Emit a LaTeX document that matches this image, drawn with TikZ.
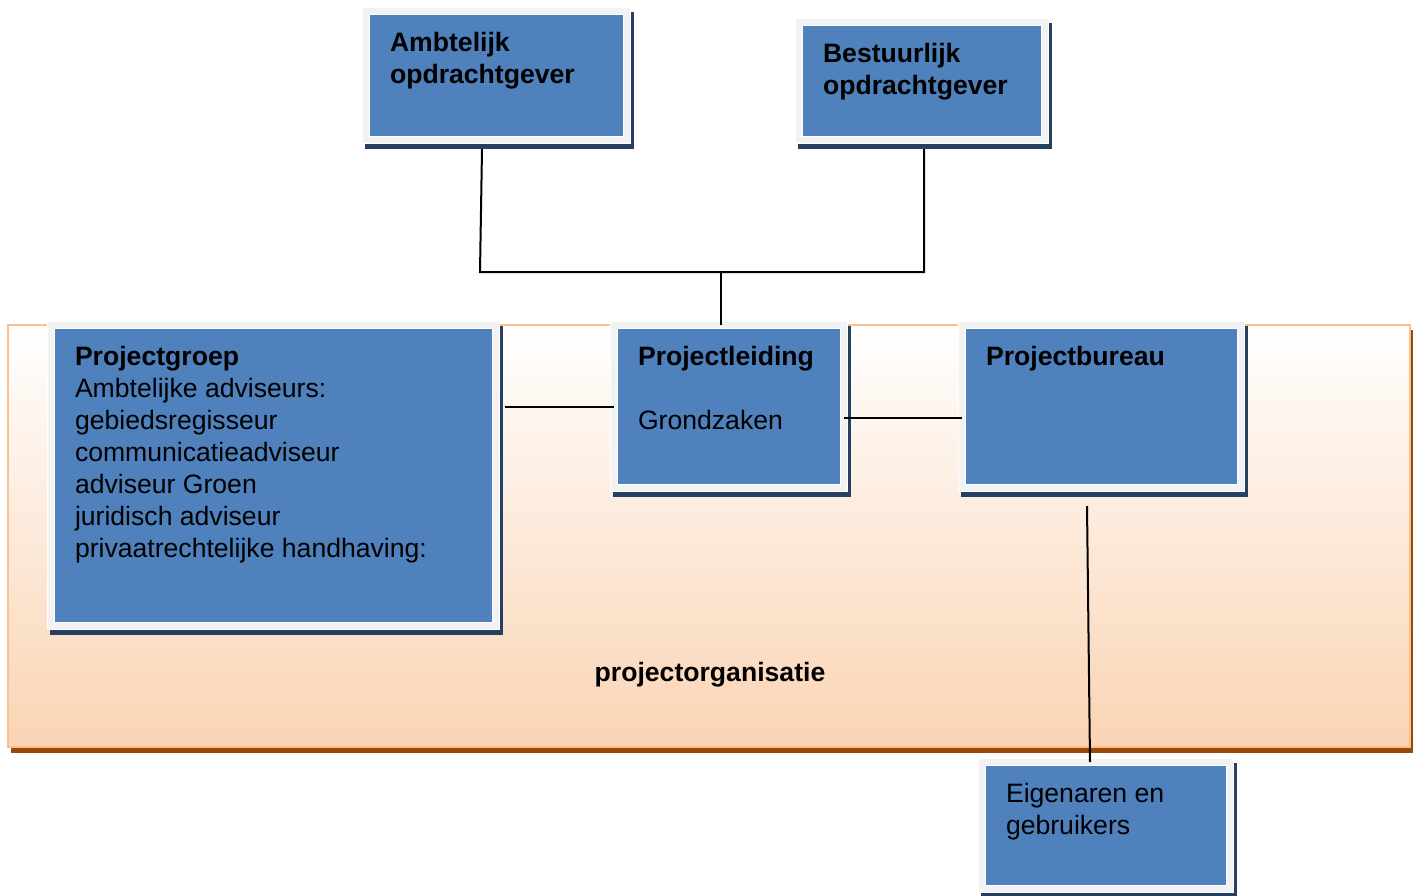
\documentclass[tikz,border=0pt]{standalone}
\usepackage{fontspec}
\setmainfont{Liberation Sans}
\usetikzlibrary{calc}

\definecolor{boxblue}{RGB}{79,129,189}
\definecolor{framegray}{RGB}{242,242,242}
\definecolor{shadowblue}{RGB}{38,64,98}
\definecolor{orgline}{RGB}{250,192,144}
\definecolor{orgfill}{RGB}{250,212,180}
\definecolor{orgshadow}{RGB}{152,72,7}

\newcommand{\boxtext}[3]{\parbox[t][#2pt][t]{#1pt}{\raggedright #3}}

\begin{document}
\begin{tikzpicture}[x=1pt,y=-1pt,
        box/.style={anchor=north west,outer sep=0pt,inner xsep=24pt,inner ysep=21pt,
            fill=boxblue,draw=white,double=framegray,line width=0.8pt,double distance=6.4pt,
            preaction={draw=shadowblue,line width=8pt,transform canvas={xshift=3pt,yshift=-5pt}},
            font=\fontsize{26.6}{32}\selectfont},
        link/.style={line width=2pt}]
            \useasboundingbox (0,0) rectangle (1413,895);

            \fill[orgshadow] (11,330) rectangle (1413,753);
            \draw[orgline,line width=2pt,top color=white,bottom color=orgfill] (8,325) rectangle (1410,747);
            \node[font=\fontsize{26.6}{32}\selectfont\bfseries,anchor=base] (orglabel) at (710,681) {projectorganisatie};

            \node[box] (ambt) at (366,11) {\boxtext{213}{87}{\textbf{Ambtelijk\\ opdrachtgever}}};
            \node[box] (best) at (799,22) {\boxtext{198}{76}{\textbf{Bestuurlijk\\ opdrachtgever}}};
            \node[box] (pgroep) at (51,325) {\boxtext{397}{259}{\textbf{Projectgroep}\\ Ambtelijke adviseurs:\\ gebiedsregisseur\\ communicatieadviseur\\ adviseur Groen\\ juridisch adviseur\\ privaatrechtelijke handhaving:}};
            \node[box] (pleid) at (614,325) {\boxtext{182}{121}{\textbf{Projectleiding}\\[32pt] Grondzaken}};
            \node[box] (pbur) at (962,325) {\boxtext{231}{121}{\textbf{Projectbureau}}};
            \node[box] (eig) at (982,762) {\boxtext{200}{85}{Eigenaren en\\ gebruikers}};

            \coordinate (busL) at (480,272);
            \coordinate (busR) at (924,272);
            \coordinate (pl-top) at ([xshift=-8pt]pleid.north);
            \coordinate (pg-right) at ([xshift=9pt]pgroep.east);

            \draw[link] ([shift={(-14.5,9)}]ambt.south) -- (busL) -- (busR) -- ([shift={(2,9)}]best.south);
            \draw[link] (pl-top) -- (pl-top |- busL);
            \draw[link] (pleid.west) -- (pleid.west -| pg-right);
            \draw[link] ([yshift=-11.5pt]pleid.east) -- ([yshift=-11.5pt]pbur.west);
            \draw[link] ([shift={(-14.5,18)}]pbur.south) -- ([xshift=-16pt]eig.north);
        \end{tikzpicture}
\end{document}
